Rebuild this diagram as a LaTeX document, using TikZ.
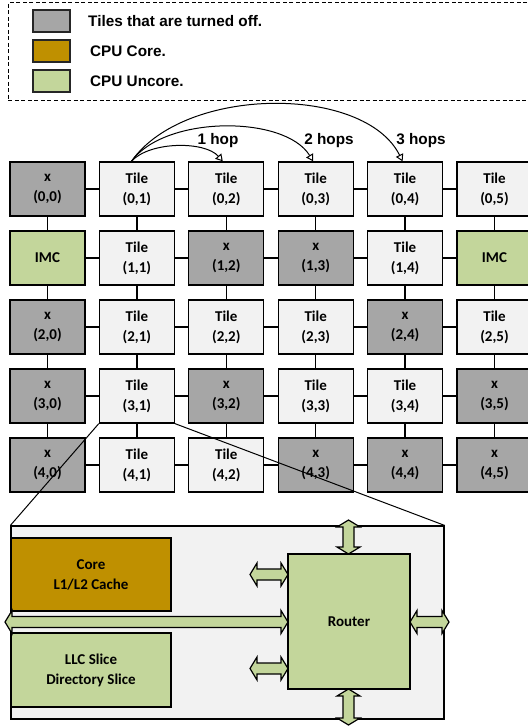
\documentclass[tikz,border=0pt]{standalone}
\usepackage{fontspec}
\newfontfamily\calfont{Carlito}
\newfontfamily\arialfont{Liberation Sans}
\usetikzlibrary{arrows.meta}
\definecolor{offgray}{HTML}{A6A6A6}
\definecolor{tilegray}{HTML}{F2F2F2}
\definecolor{uncore}{HTML}{C3D69B}
\definecolor{coregold}{HTML}{BF9000}
\tikzset{
  cellbox/.style={draw=black, line width=1.3pt, minimum width=75pt, minimum height=54pt, inner sep=0pt,
    align=center, font=\calfont\bfseries\fontsize{15}{20}\selectfont},
  ontile/.style={cellbox, fill=tilegray},
  offtile/.style={cellbox, fill=offgray},
  imctile/.style={cellbox, fill=uncore},
  link/.style={line width=1.3pt},
  hop/.style={line width=1pt, -{Triangle[open, length=7pt, width=8pt]}},
  legsw/.style={draw=black!85, line width=1.2pt, minimum width=37pt, minimum height=22pt, inner sep=0pt},
  legtxt/.style={anchor=west, inner sep=0pt, font=\arialfont\bfseries\fontsize{15.3}{17}\selectfont},
  hoptxt/.style={inner sep=0pt, font=\arialfont\bfseries\fontsize{15.3}{17}\selectfont},
  blockbox/.style={draw=black, line width=1.2pt, inner sep=0pt, align=center,
    font=\calfont\bfseries\fontsize{15}{20}\selectfont},
  blk/.style={draw=black, line width=1.2pt, fill=uncore, line join=miter},
  zoomline/.style={line width=1pt}
}
\newcommand\cellnode[4]{\node[#3] (n#1#2) at ({47.5+89.4*#2},{189+69*#1}) {#4};}
\newcommand\hblock[3]{%
  \draw[blk] (#1,#3) -- ({#1+7},{#3-11.5}) -- ({#1+7},{#3-5.5}) -- ({#2-7},{#3-5.5}) -- ({#2-7},{#3-11.5})
   -- (#2,#3) -- ({#2-7},{#3+11.5}) -- ({#2-7},{#3+5.5}) -- ({#1+7},{#3+5.5}) -- ({#1+7},{#3+11.5}) -- cycle;}
\newcommand\vblock[3]{%
  \draw[blk] (#1,#2) -- ({#1-11.5},{#2+7}) -- ({#1-5.5},{#2+7}) -- ({#1-5.5},{#3-7}) -- ({#1-11.5},{#3-7})
   -- (#1,#3) -- ({#1+11.5},{#3-7}) -- ({#1+5.5},{#3-7}) -- ({#1+5.5},{#2+7}) -- ({#1+11.5},{#2+7}) -- cycle;}
\begin{document}
\begin{tikzpicture}[x=1pt,y=-1pt]
\useasboundingbox (0,0) rectangle (527,727);
% legend
\draw[line width=1pt, dash pattern=on 4pt off 2.5pt] (540,3) -- (8,3) -- (8,101) -- (540,101);
\node[legsw, fill=offgray] (l1) at (51.5,21) {};
\node[legsw, fill=coregold] (l2) at (51.5,51) {};
\node[legsw, fill=uncore] (l3) at (51.5,81) {};
\node[legtxt] (lt1) at (88,21) {Tiles that are turned off.};
\node[legtxt] (lt2) at (90,51.5) {CPU Core.};
\node[legtxt] (lt3) at (90,81) {CPU Uncore.};
% grid
\cellnode{0}{0}{offtile}{x\\(0,0)}
\cellnode{0}{1}{ontile}{Tile\\(0,1)}
\cellnode{0}{2}{ontile}{Tile\\(0,2)}
\cellnode{0}{3}{ontile}{Tile\\(0,3)}
\cellnode{0}{4}{ontile}{Tile\\(0,4)}
\cellnode{0}{5}{ontile}{Tile\\(0,5)}
\cellnode{1}{0}{imctile}{IMC}
\cellnode{1}{1}{ontile}{Tile\\(1,1)}
\cellnode{1}{2}{offtile}{x\\(1,2)}
\cellnode{1}{3}{offtile}{x\\(1,3)}
\cellnode{1}{4}{ontile}{Tile\\(1,4)}
\cellnode{1}{5}{imctile}{IMC}
\cellnode{2}{0}{offtile}{x\\(2,0)}
\cellnode{2}{1}{ontile}{Tile\\(2,1)}
\cellnode{2}{2}{ontile}{Tile\\(2,2)}
\cellnode{2}{3}{ontile}{Tile\\(2,3)}
\cellnode{2}{4}{offtile}{x\\(2,4)}
\cellnode{2}{5}{ontile}{Tile\\(2,5)}
\cellnode{3}{0}{offtile}{x\\(3,0)}
\cellnode{3}{1}{ontile}{Tile\\(3,1)}
\cellnode{3}{2}{offtile}{x\\(3,2)}
\cellnode{3}{3}{ontile}{Tile\\(3,3)}
\cellnode{3}{4}{ontile}{Tile\\(3,4)}
\cellnode{3}{5}{offtile}{x\\(3,5)}
\cellnode{4}{0}{offtile}{x\\(4,0)}
\cellnode{4}{1}{ontile}{Tile\\(4,1)}
\cellnode{4}{2}{ontile}{Tile\\(4,2)}
\cellnode{4}{3}{offtile}{x\\(4,3)}
\cellnode{4}{4}{offtile}{x\\(4,4)}
\cellnode{4}{5}{offtile}{x\\(4,5)}
\foreach \r in {0,...,4}{
  \foreach \c [evaluate=\c as \d using int(\c+1)] in {0,...,4}{
    \draw[link] (n\r\c.east) -- (n\r\d.west);}}
\foreach \r [evaluate=\r as \s using int(\r+1)] in {0,...,3}{
  \foreach \c in {0,...,5}{
    \draw[link] (n\r\c.south) -- (n\s\c.north);}}
% hops
\draw[hop] ([xshift=-5.5pt]n01.north) .. controls (150,141) and (205,141) .. ([xshift=-3.5pt]n02.north);
\draw[hop] ([xshift=-5.5pt]n01.north) .. controls (165,115) and (285,115) .. ([xshift=-2.5pt]n03.north);
\draw[hop] ([xshift=-5.5pt]n01.north) .. controls (185,85) and (365,85) .. ([xshift=-2.5pt]n04.north);
\node[hoptxt] (h1) at (218,141) {1 hop};
\node[hoptxt] (h2) at (329,141) {2 hops};
\node[hoptxt] (h3) at (421,141) {3 hops};
% detail
\node[blockbox, fill=tilegray, minimum width=433pt, minimum height=193pt] (detail) at (227.5,622.5) {};
\node[blockbox, fill=coregold, minimum width=160pt, minimum height=73pt] (core) at (91,574.5) {Core\\L1/L2 Cache};
\node[blockbox, fill=uncore, minimum width=160pt, minimum height=74pt] (llc) at (91,670) {LLC Slice\\Directory Slice};
\node[blockbox, fill=uncore, minimum width=122pt, minimum height=135pt] (router) at (349,621.5) {Router};
\hblock{5}{288}{622}
\hblock{250}{288}{574.5}
\hblock{250}{288}{668.5}
\hblock{410}{449}{622}
\vblock{348.5}{520}{554}
\vblock{348.5}{689}{725}
\draw[zoomline] (n31.south west) -- (detail.north west);
\draw[zoomline] (n31.south east) -- (detail.north east);
\end{tikzpicture}
\end{document}
